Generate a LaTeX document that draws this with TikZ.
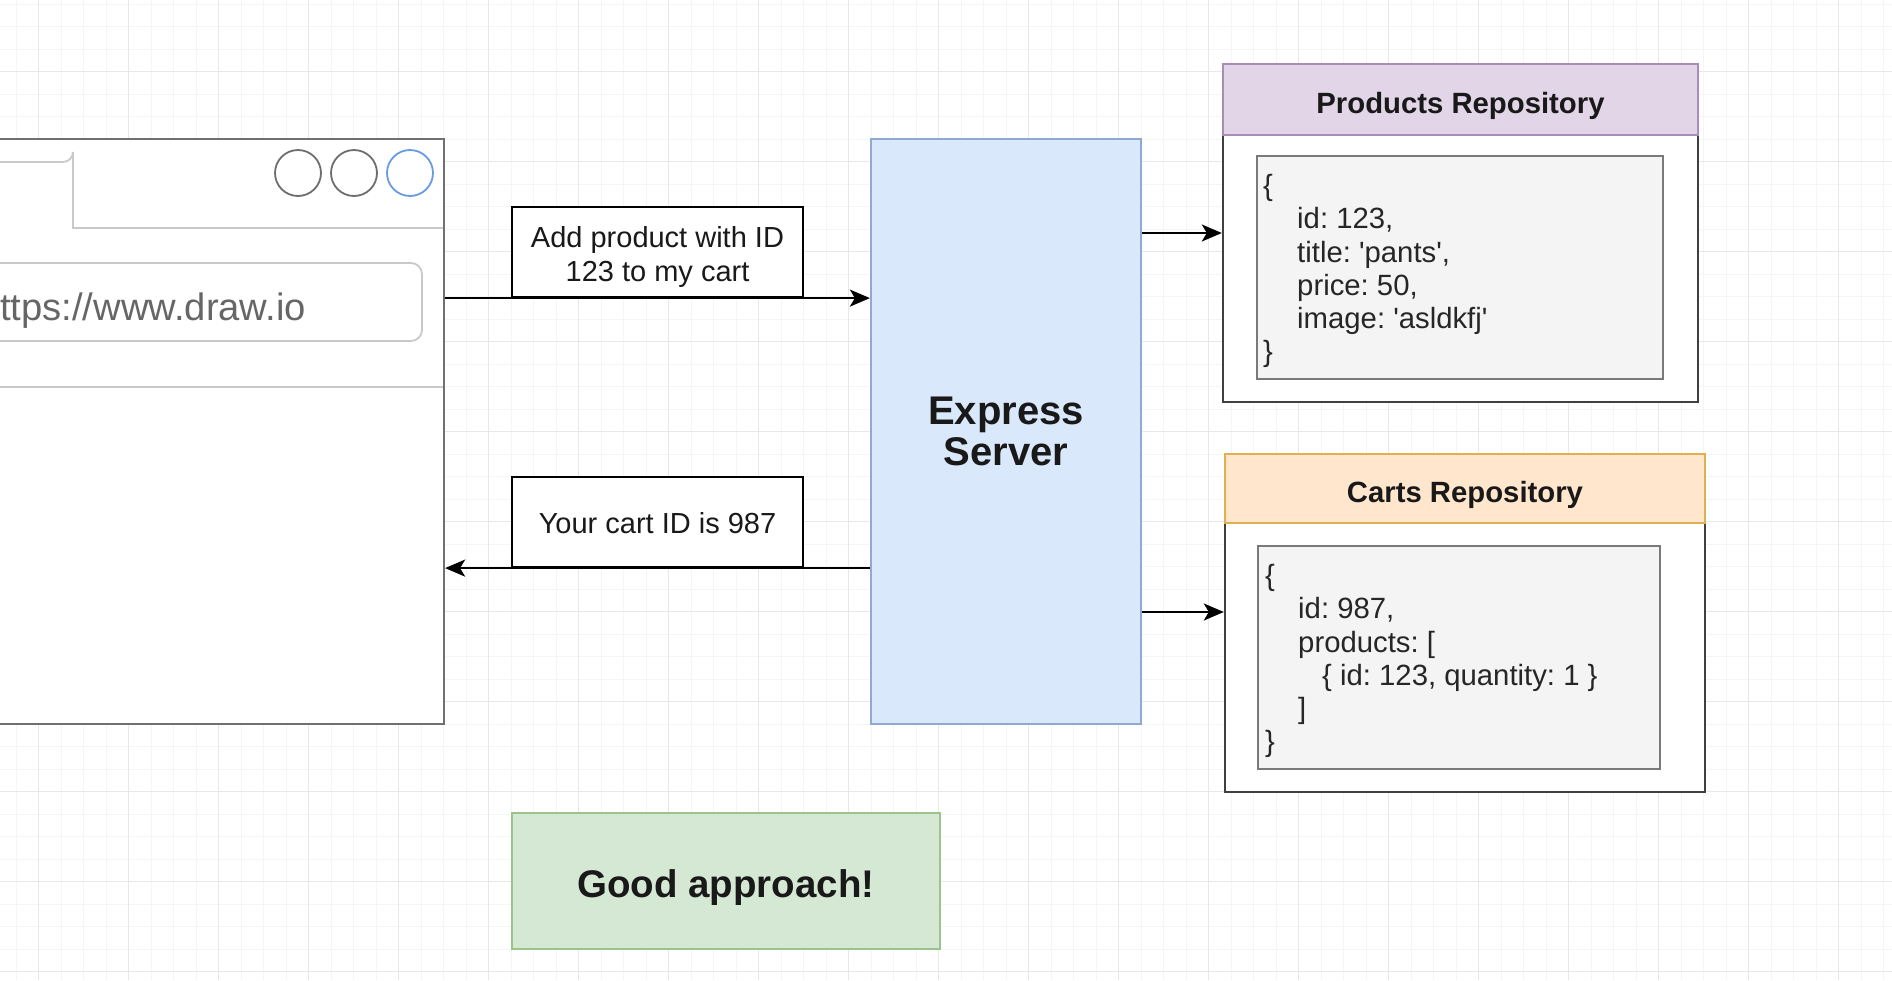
\documentclass[tikz,border=0pt]{standalone}
\usepackage{fontspec}
\setmainfont{Liberation Sans}
\usetikzlibrary{arrows.meta,calc}
\definecolor{gridminor}{HTML}{F5F5F5}
\definecolor{gridmajor}{HTML}{E8E8E8}
\definecolor{framegray}{HTML}{707070}
\definecolor{lightline}{HTML}{C9C9C9}
\definecolor{urlgray}{HTML}{666666}
\definecolor{circgray}{HTML}{6E6E6E}
\definecolor{circblue}{HTML}{6A9BE0}
\definecolor{blueF}{HTML}{DAE8FC}
\definecolor{blueD}{HTML}{8FA9D3}
\definecolor{purpleF}{HTML}{E1D5E7}
\definecolor{purpleD}{HTML}{A98DB8}
\definecolor{orangeF}{HTML}{FFE6CC}
\definecolor{orangeD}{HTML}{E0B050}
\definecolor{greenF}{HTML}{D5E8D4}
\definecolor{greenD}{HTML}{9CC48A}
\definecolor{innerF}{HTML}{F4F4F4}
\definecolor{innerD}{HTML}{7A7A7A}
\definecolor{codetxt}{HTML}{262626}
\newcommand\fsz[2]{\fontsize{#1}{#2}\selectfont}
\newcommand\sq{\textquotesingle}
\frenchspacing
\begin{document}
\begin{tikzpicture}[x=1pt,y=-1pt,
  minorline/.style={draw=gridminor, line width=1pt},
  majorline/.style={draw=gridmajor, line width=1.2pt},
  framebox/.style={rectangle, draw=framegray, fill=white, line width=2.2pt, inner sep=0pt},
  lblbox/.style={rectangle, draw=black, fill=white, line width=2.2pt, inner sep=0pt,
    minimum width=291pt, minimum height=90pt},
  lbltext/.style={anchor=base, inner sep=0pt, font=\frenchspacing\fsz{29}{34}, text=black!90},
  repobox/.style={rectangle, draw=black!75, fill=white, line width=2.4pt, inner sep=0pt},
  hdrbox/.style={rectangle, line width=2.2pt, inner sep=0pt},
  hdrtext/.style={anchor=base, inner sep=0pt, font=\bfseries\fsz{29.3}{34}, text=black!90},
  innerbox/.style={rectangle, draw=innerD, fill=innerF, line width=2pt, inner sep=0pt},
  codeline/.style={anchor=base west, inner sep=0pt, font=\frenchspacing\fsz{29.3}{34}, text=codetxt},
  winbtn/.style={circle, draw=circgray, line width=1.8pt, minimum size=46pt, inner sep=0pt},
  arr/.style={draw=black, line width=2.2pt, -{Stealth[length=20pt,width=17pt,inset=5pt]}}
]
\useasboundingbox (0,0) rectangle (1892,980);
\clip (0,0) rectangle (1892,980);
\fill[white] (0,0) rectangle (1892,980);
% grid
\foreach \i in {0,...,84} {\draw[minorline] ({16.2+22.5*\i},0) -- ++(0,980);}
\foreach \i in {0,...,44} {\draw[minorline] (0,{4.2+22.5*\i}) -- ++(1892,0);}
\foreach \i in {0,...,20} {\draw[majorline] ({38.7+90*\i},0) -- ++(0,980);}
\foreach \i in {0,...,10} {\draw[majorline] (0,{71.7+90*\i}) -- ++(1892,0);}

% browser window
\node[framebox, minimum width=504pt, minimum height=585pt] (browser) at (192,431.5) {};
\draw[lightline, line width=1.8pt] (-20,162) -- (63,162) arc[start angle=90, end angle=0, radius=10] -- (73,228) -- (443,228);
\draw[lightline, line width=1.8pt, rounded corners=11pt] (-30,263) rectangle (422,341);
\node[anchor=base east, inner sep=0pt, font=\fsz{38.2}{44}, text=urlgray] (url) at (306,320) {ttps://www.draw.io};
\draw[lightline, line width=1.8pt] (-20,387) -- (443,387);
\node[winbtn] (btnA) at (298,173) {};
\node[winbtn] (btnB) at (354,173) {};
\node[winbtn, draw=circblue] (btnC) at (410,173) {};

% express server
\node[rectangle, draw=blueD, fill=blueF, line width=2.2pt, minimum width=270pt, minimum height=585pt,
  align=center, font=\bfseries\fsz{40}{41}, text=black!90] (express) at (1006,431.5) {Express\\Server};

% message labels
\node[lblbox] (req) at (657.5,252) {};
\node[lbltext] (reqA) at (657.5,247) {Add product with ID};
\node[lbltext] (reqB) at (657.5,281) {123 to my cart};
\node[lblbox] (resp) at (657.5,522) {};
\node[lbltext] (respA) at (657.5,533) {Your cart ID is 987};

% products repository
\node[repobox, minimum width=475pt, minimum height=338pt] (prod) at (1460.5,233) {};
\node[hdrbox, fill=purpleF, draw=purpleD, minimum width=475pt, minimum height=71pt] (prodhdr) at (1460.5,99.5) {};
\node[hdrtext] (prodtitle) at ($(prodhdr.center)+(0,13.5)$) {Products Repository};
\node[innerbox, minimum width=406pt, minimum height=223pt] (prodin) at (1460,267.5) {};
\node[codeline] (pa) at (1263,195) {\{};
\node[codeline] (pb) at (1297,228) {id: 123,};
\node[codeline] (pc) at (1297,262) {title: \sq pants\sq,};
\node[codeline] (pd) at (1297,295) {price: 50,};
\node[codeline] (pe) at (1297,328) {image: \sq asldkfj\sq};
\node[codeline] (pf) at (1263,361) {\}};

% carts repository
\node[repobox, minimum width=480pt, minimum height=338pt] (carts) at (1465,623) {};
\node[hdrbox, fill=orangeF, draw=orangeD, minimum width=480pt, minimum height=69pt] (cartshdr) at (1465,488.5) {};
\node[hdrtext] (cartstitle) at ($(cartshdr.center)+(0,13.5)$) {Carts Repository};
\node[innerbox, minimum width=402pt, minimum height=223pt] (cartsin) at (1459,657.5) {};
\node[codeline] (ca) at (1265,585) {\{};
\node[codeline] (cb) at (1298,618) {id: 987,};
\node[codeline] (cc) at (1298,652) {products: [};
\node[codeline] (cd) at (1322,685) {\{ id: 123, quantity: 1 \}};
\node[codeline] (ce) at (1298,718) {]};
\node[codeline] (cf) at (1265,751) {\}};

% verdict
\node[rectangle, draw=greenD, fill=greenF, line width=2.2pt, minimum width=428pt, minimum height=136pt] (verdict) at (726,881) {};
\node[anchor=base, inner sep=0pt, font=\bfseries\fsz{38.5}{44}, text=black!90] (verdicttext) at ($(verdict.center)+(0,16)$) {Good approach!};

% connectors
\draw[arr] (req.south -| browser.east) -- (req.south -| express.west);
\draw[arr] (resp.south -| express.west) -- (resp.south -| browser.east);
\draw[arr] (prod.west -| express.east) -- (prod.west);
\coordinate (cartin) at ($(carts.west)+(0,-11)$);
\draw[arr] (cartin -| express.east) -- (cartin);
\end{tikzpicture}
\end{document}
